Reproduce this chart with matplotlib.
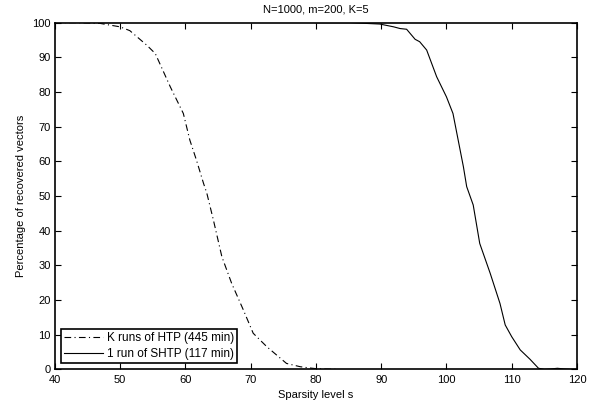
import matplotlib
matplotlib.use("Agg")
import matplotlib.pyplot as plt

plt.rcParams['font.family'] = ['Liberation Sans', 'DejaVu Sans']

# K runs of HTP
htp_s = [40, 43.3, 46.9, 50, 51.5, 54.1, 55.4, 57.7, 59.7, 60.7, 61.7, 62.8, 63.3, 64.3,
         65.6, 67.1, 68.9, 70.4, 72.5, 75.5, 77.6, 79, 80, 81, 83]
htp_v = [100, 100, 99.8, 98.8, 97.7, 93.5, 91.1, 81.5, 73.8, 66.1, 60.4, 53.6, 50.8, 43.1,
         32.5, 24.8, 17.1, 10.4, 6.5, 1.7, 0.75, 0.4, 0.2, 0.1, 0]

# 1 run of SHTP
shtp_s = [80, 85.2, 89.8, 91.9, 92.9, 93.9, 95.2, 95.9, 96.97, 98.5, 100.0, 101.0, 101.8,
          102.6, 103.1, 104.1, 105.1, 106.7, 108.2, 109.0, 110.0, 111.3, 112.8, 114.1,
          115, 116, 117, 118, 119, 120]
shtp_v = [100, 100, 99.6, 98.8, 98.3, 98.1, 95.2, 94.5, 92.1, 84.4, 78.6, 73.8, 66.1,
          58.4, 52.7, 47.4, 36.3, 27.7, 19.0, 12.8, 9.4, 5.6, 2.9, 0.3,
          0, 0.1, 0.3, 0.1, 0, 0]

fig = plt.figure(figsize=(6.0, 4.12), dpi=100)
ax = fig.add_axes([0.0912, 0.1036, 0.8705, 0.8414])

ax.plot(htp_s, htp_v, color='black', linestyle=(0, (6, 3, 1, 3)), linewidth=0.8,
        label='K runs of HTP (445 min)')
ax.plot(shtp_s, shtp_v, color='black', linestyle='-', linewidth=0.8,
        label='1 run of SHTP (117 min)')

ax.set_xlim(40, 120)
ax.set_ylim(0, 100)
ax.set_xticks(range(40, 121, 10))
ax.set_yticks(range(0, 101, 10))
ax.tick_params(direction='in', top=True, right=True, labelsize=8, length=4, width=0.8)
ax.tick_params(axis='x', pad=4)
ax.tick_params(axis='y', pad=3)
for sp in ax.spines.values():
    sp.set_linewidth(1.2)

ax.set_xlabel('Sparsity level s', fontsize=8, labelpad=4)
ax.set_ylabel('Percentage of recovered vectors', fontsize=8, labelpad=4)
ax.set_title('N=1000, m=200, K=5', fontsize=8, pad=7)

leg = ax.legend(loc='lower left', fontsize=8.5, fancybox=False, edgecolor='black',
                framealpha=1, borderaxespad=0.5, handlelength=3.3, borderpad=0.3,
                labelspacing=0.3, handletextpad=0.3)
leg.get_frame().set_linewidth(1.2)

fig.savefig('out.png', dpi=100)
